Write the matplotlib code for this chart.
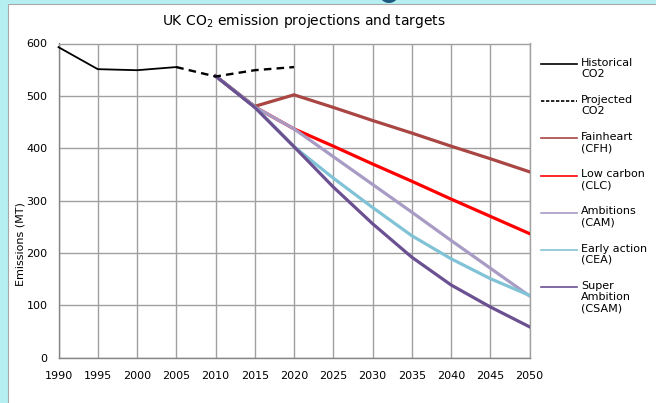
import matplotlib
matplotlib.use("Agg")
import matplotlib.pyplot as plt
from matplotlib.patches import Rectangle, Ellipse
from matplotlib.lines import Line2D

# ---- data ----
years_hist = [1990, 1995, 2000, 2005]
hist_co2 = [593, 551, 549, 555]

years_proj = [2005, 2010, 2015, 2020]
proj_co2 = [555, 537, 549, 555]

years_scen = [2010, 2015, 2020, 2025, 2030, 2035, 2040, 2045, 2050]
cfh = [538, 480, 502, 478, 453, 429, 404, 380, 355]
clc = [538, 479, 437, 404, 370, 337, 303, 270, 237]
cam = [538, 479, 437, 384, 331, 278, 224, 171, 118]
cea = [538, 479, 403, 343, 287, 233, 189, 151, 119]
csam = [538, 478, 403, 326, 256, 192, 139, 97, 59]

x_ticks = list(range(1990, 2051, 5))
y_ticks = [0, 100, 200, 300, 400, 500, 600]

legend_labels = ["Historical\nCO2", "Projected\nCO2", "Fainheart\n(CFH)",
                 "Low carbon\n(CLC)", "Ambitions\n(CAM)", "Early action\n(CEA)",
                 "Super\nAmbition\n(CSAM)"]

# ---- styles ----
c_cfh = "#A94543"
c_clc = "#FF0000"
c_cam = "#A89BC4"
c_cea = "#80C3D6"
c_csam = "#6B5092"

W, H = 656, 403
fig = plt.figure(figsize=(W / 100, H / 100), dpi=100)
fig.patch.set_facecolor("#b5eff1")

def px(x, y):
    return x / W, 1 - y / H

# background decorations
fig.patches.append(Ellipse((389 / 100, (H + 7) / 100), 20 / 100, 20 / 100,
                           transform=fig.dpi_scale_trans, facecolor="#1d5a80",
                           edgecolor="none", zorder=0))
fig.patches.append(Rectangle((8 / 100, -1 / 100), (W - 8 + 5) / 100, (H - 4 + 1) / 100,
                             transform=fig.dpi_scale_trans, facecolor="white",
                             edgecolor="#a8a8a8", linewidth=0.8, zorder=1))

l, t = px(58.5, 43.5)
r, b = px(529.5, 357.7)
ax = fig.add_axes([l, b, r - l, t - b])
ax.set_facecolor("white")
ax.set_zorder(2)

ax.set_xlim(1990, 2050)
ax.set_ylim(0, 600)
ax.set_xticks(x_ticks)
ax.set_yticks(y_ticks)
ax.grid(True, color="#a0a0a0", linewidth=1.0)
ax.set_axisbelow(True)
ax.tick_params(length=0, labelsize=8, colors="#000000")
ax.tick_params(axis="x", pad=9.5)
ax.tick_params(axis="y", pad=8)
for s in ["top", "right"]:
    ax.spines[s].set_color("#a0a0a0")
    ax.spines[s].set_linewidth(1.0)
for s in ["left", "bottom"]:
    ax.spines[s].set_color("#858585")
    ax.spines[s].set_linewidth(1.0)

lw = 2.3
ax.plot(years_hist, hist_co2, color="black", lw=1.3, zorder=5, clip_on=False)
ax.plot(years_proj, proj_co2, color="black", lw=1.7, linestyle=(0, (3.2, 2.2)), zorder=5)
ax.plot(years_scen, cfh, color=c_cfh, lw=lw, zorder=3)
ax.plot(years_scen, clc, color=c_clc, lw=lw, zorder=3)
ax.plot(years_scen, cam, color=c_cam, lw=lw, zorder=3)
ax.plot(years_scen, cea, color=c_cea, lw=lw, zorder=3)
ax.plot(years_scen, csam, color=c_csam, lw=lw, zorder=4)

# y label
fig.text(*px(21, 244), "Emissions (MT)", rotation=90, ha="center", va="center",
         fontsize=8, zorder=6)

# title
fig.text(*px(304, 20.5), "UK CO$_2$ emission projections and targets", ha="center",
         va="center", fontsize=10, zorder=6)

# manual legend
leg_colors = ["black", "black", c_cfh, c_clc, c_cam, c_cea, c_csam]
leg_styles = ["-", (0, (2, 1)), "-", "-", "-", "-", "-"]
leg_y = [64, 101.3, 138.3, 175.7, 212.7, 250, 287.3]
for lab, col, ls, yy in zip(legend_labels, leg_colors, leg_styles, leg_y):
    x0, y0 = px(541, yy)
    x1, _ = px(576.5, yy)
    fig.add_artist(Line2D([x0, x1], [y0, y0], color=col, lw=1.2, linestyle=ls,
                          transform=fig.transFigure, zorder=6))
    tx, ty = px(581, yy - 6.3)
    fig.text(tx, ty, lab, ha="left", va="top", fontsize=8, linespacing=1.13, zorder=6)

fig.savefig("out.png", dpi=100, facecolor=fig.get_facecolor())
